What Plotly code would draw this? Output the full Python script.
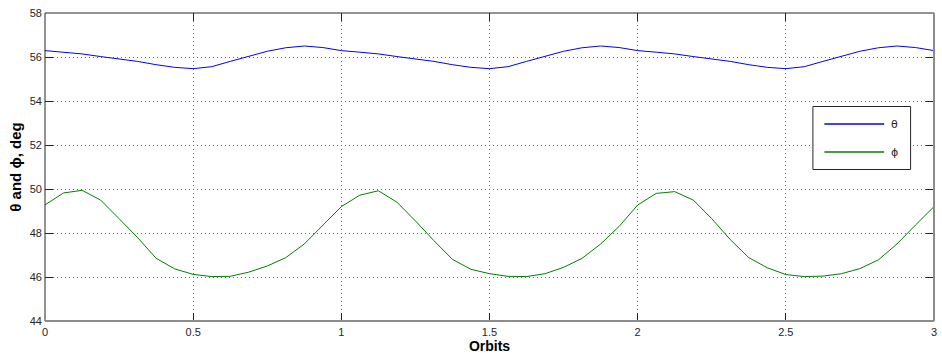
import plotly.graph_objects as go

# Orbit grid (1/16 orbit steps over three orbits)
orbits = [i / 16 for i in range(49)]

theta_deg = [
    56.29, 56.22, 56.14, 56.02, 55.92, 55.80, 55.65, 55.53,
    55.47, 55.56, 55.80, 56.04, 56.26, 56.42, 56.50, 56.43,
    56.29, 56.22, 56.14, 56.02, 55.92, 55.80, 55.65, 55.53,
    55.47, 55.56, 55.80, 56.04, 56.26, 56.42, 56.50, 56.43,
    56.29, 56.22, 56.14, 56.02, 55.92, 55.80, 55.65, 55.53,
    55.47, 55.56, 55.80, 56.04, 56.26, 56.42, 56.50, 56.43,
    56.29,
]

phi_deg = [
    49.28, 49.82, 49.94, 49.50, 48.65, 47.79, 46.85, 46.37,
    46.12, 46.02, 46.03, 46.22, 46.50, 46.88, 47.50, 48.34,
    49.20, 49.72, 49.92, 49.40, 48.55, 47.65, 46.80, 46.35,
    46.15, 46.03, 46.02, 46.15, 46.44, 46.85, 47.50, 48.30,
    49.27, 49.80, 49.88, 49.50, 48.65, 47.70, 46.88, 46.42,
    46.11, 46.02, 46.04, 46.15, 46.38, 46.78, 47.50, 48.36,
    49.20,
]

x_ticks = [0, 0.5, 1, 1.5, 2, 2.5, 3]
x_tick_text = ["0", "0.5", "1", "1.5", "2", "2.5", "3"]
y_ticks = [44, 46, 48, 50, 52, 54, 56, 58]

series = [("θ", theta_deg, "#0000ff"), ("ϕ", phi_deg, "#008000")]

fig = go.Figure()
for name, vals, color in series:
    fig.add_trace(go.Scatter(x=orbits, y=vals, mode="lines", name=name,
                             line=dict(color=color, width=1), showlegend=False))

W, H = 942, 360
L, R, T, B = 45, 5, 13, 39
pw, ph = W - L - R, H - T - B

def px(x):
    return (x - L) / pw

def py(y):
    return (H - B - y) / ph

FONT = "Liberation Sans, Arial, sans-serif"

axis_common = dict(
    showgrid=True, gridcolor="#666666", griddash="1px,3px", gridwidth=1,
    zeroline=False, showline=False, ticks="inside", ticklen=8, tickwidth=1,
    tickcolor="#262626", mirror="ticks",
    tickfont=dict(family=FONT, size=11, color="#262626"),
)

fig.update_xaxes(range=[0, 3], tickvals=x_ticks, ticktext=x_tick_text, ticklabelstandoff=3,
                 title=dict(text="<b>Orbits</b>", standoff=0,
                            font=dict(family=FONT, size=14, color="#000")),
                 **axis_common)
fig.update_yaxes(range=[44, 58], tickvals=y_ticks, ticklabelstandoff=2,
                 title=dict(text="<b>θ and ϕ, deg</b>", standoff=4,
                            font=dict(family=FONT, size=15, color="#000")),
                 **axis_common)

shapes = [
    # axes frame
    dict(type="line", xref="paper", yref="paper", x0=0, x1=0, y0=0, y1=1, line=dict(color="#262626", width=1)),
    dict(type="line", xref="paper", yref="paper", x0=0, x1=1, y0=1, y1=1, line=dict(color="#262626", width=1)),
    dict(type="line", xref="paper", yref="paper", x0=0, x1=1, y0=0, y1=0, line=dict(color="#8c8c8c", width=2)),
    dict(type="line", xref="paper", yref="paper", x0=1, x1=1, y0=0, y1=1, line=dict(color="#8c8c8c", width=2)),
    # legend box
    dict(type="rect", xref="paper", yref="paper", x0=px(815.5), x1=px(913.5), y0=py(169.5), y1=py(106.5),
         line=dict(color="#262626", width=1), fillcolor="white", layer="above"),
]
annotations = []
for i, (name, vals, color) in enumerate(series):
    yy = 124 + 28 * i
    shapes.append(dict(type="line", xref="paper", yref="paper", x0=px(827), x1=px(887), y0=py(yy), y1=py(yy),
                       line=dict(color=color, width=1.5), layer="above"))
    annotations.append(dict(xref="paper", yref="paper", x=px(892), y=py(yy), text=name, showarrow=False,
                            xanchor="left", yanchor="middle",
                            font=dict(family="DejaVu Sans, sans-serif", size=11, color="#262626")))

fig.update_layout(
    width=W, height=H, margin=dict(l=L, r=R, t=T, b=B),
    paper_bgcolor="white", plot_bgcolor="white",
    shapes=shapes, annotations=annotations, showlegend=False,
)

fig.write_html("out.html")
